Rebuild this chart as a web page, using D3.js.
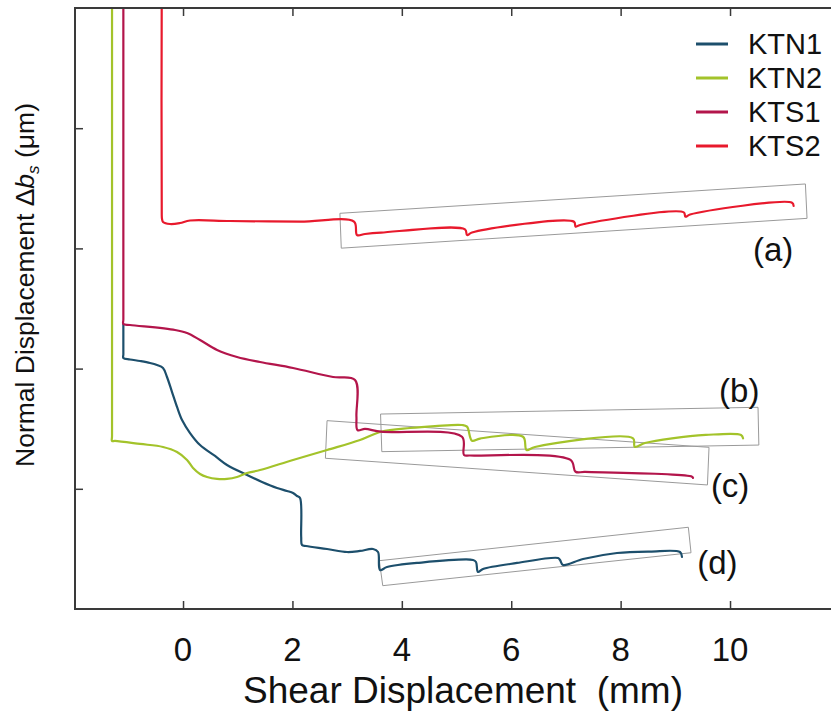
<!DOCTYPE html>
<html><head><meta charset="utf-8">
<script src="https://cdn.jsdelivr.net/npm/d3@7"></script>
<style>
html,body{margin:0;padding:0;background:#fff;}
text{font-family:"Liberation Sans",Arial,Helvetica,sans-serif;fill:#111;}
</style></head>
<body>
<svg id="chart" width="831" height="711"></svg>
<script>
// ---- data (shear displacement in mm, normal displacement in arbitrary µm units) ----
const seriesNames = ["KTN1", "KTN2", "KTS1", "KTS2"];
const seriesColors = ["#1d4f6c", "#a3c32a", "#b3154b", "#e8192c"];
const xTicks = [0, 2, 4, 6, 8, 10];
const yTicks = [100, 200, 300, 400];

const ktn1 = [[-1.091,237.1],[-1.091,212.0],[-1.091,208.8],[-0.969,207.6],[-0.786,206.3],[-0.603,204.7],[-0.475,203.0],[-0.366,200.5],[-0.293,193.0],[-0.201,180.5],[-0.110,168.1],[-0.018,157.2],[0.128,146.4],[0.311,136.4],[0.585,127.3],[0.804,119.8],[1.170,111.5],[1.444,105.7],[1.718,100.7],[1.901,98.2],[2.011,96.5],[2.084,94.0],[2.139,92.3],[2.160,60.0],[2.175,53.2],[2.249,52.4],[2.633,49.9],[3.0,47.4],[3.236,48.3],[3.474,49.9],[3.565,47.4],[3.601,32.4],[3.729,34.9],[4.278,38.3],[5.302,40.8],[5.356,39.1],[5.393,30.8],[5.484,33.3],[6.106,38.3],[6.856,42.4],[6.892,40.8],[6.947,36.6],[7.313,41.6],[7.934,46.6],[8.537,47.8],[9.086,47.4],[9.122,43.3]];
const ktn2 = [[-1.298,520],[-1.298,144.0],[-1.298,139.8],[-1.243,139.8],[-0.786,137.3],[-0.366,134.8],[-0.110,130.6],[0.073,124.0],[0.183,117.3],[0.311,112.3],[0.439,109.8],[0.622,108.2],[0.804,108.2],[0.987,109.8],[1.170,113.1],[1.408,115.6],[2.011,124.0],[2.633,132.3],[3.236,140.6],[3.620,147.5],[4.150,150.6],[4.607,152.2],[5.100,153.1],[5.192,151.7],[5.283,140.0],[5.430,141.8],[6.216,143.3],[6.280,132.3],[6.435,134.8],[8.227,142.0],[8.258,135.0],[8.446,138.1],[8.940,142.0],[9.556,144.8],[10.201,144.8],[10.238,142.0]];
const kts1 = [[-1.091,520],[-1.091,241.0],[-1.091,237.1],[-0.969,236.3],[-0.146,232.1],[0.073,229.6],[0.311,223.8],[0.622,215.5],[0.987,209.7],[1.408,205.5],[2.011,200.5],[2.742,193.0],[3.144,190.5],[3.170,160.0],[3.190,148.9],[3.327,149.8],[3.620,147.5],[5.100,143.3],[5.137,128.1],[5.247,127.7],[7.084,124.0],[7.176,114.2],[7.349,114.0],[9.305,110.1],[9.324,109.0]];
const kts2 = [[-0.389,520],[-0.389,328.0],[-0.384,324.5],[-0.366,322.0],[-0.238,320.3],[-0.055,321.1],[0.128,323.2],[0.859,322.8],[2.139,322.2],[3.126,322.2],[3.181,311.1],[3.327,312.0],[3.620,313.1],[5.155,315.9],[5.192,311.1],[5.283,313.2],[7.148,322.2],[7.176,318.1],[7.258,319.5],[9.154,330.0],[9.185,326.4],[9.269,328.2],[11.133,338.0],[11.163,335.3]];

// annotation boxes (corners) and labels
const boxA = [[2.868,329.2],[11.378,353.6],[11.408,325.0],[2.893,300.2]];
const boxB = [[3.611,162.2],[10.512,167.8],[10.527,136.4],[3.634,130.9]];
const boxC = [[2.633,156.7],[9.616,134.5],[9.587,103.2],[2.603,125.4]];
const boxD = [[3.589,40.2],[9.238,68.0],[9.287,46.8],[3.651,19.4]];
const boxLabels = ["(a)", "(b)", "(c)", "(d)"];
const boxLabelPos = [[10.42,289.5],[9.80,172.5],[9.65,93.5],[9.40,29.0]];

// ---- layout ----
const svg = d3.select("#chart");
const L = 75, R = 831, T = 8, B = 609;
const x = d3.scaleLinear().domain([-1.975, 11.846]).range([L, R]);
const y = d3.scaleLinear().domain([0, 500]).range([B, T]);

svg.append("defs").append("clipPath").attr("id","clip")
  .append("rect").attr("x",L).attr("y",T).attr("width",R-L).attr("height",B-T);

// boxes
const boxes = [boxA, boxB, boxC, boxD];
const poly = d3.line().x(d=>x(d[0])).y(d=>y(d[1])).curve(d3.curveLinearClosed);
svg.append("g").selectAll("path").data(boxes).join("path")
  .attr("d", poly).attr("fill","none").attr("stroke","#9a9a9a").attr("stroke-width",1);

// curves
const line = d3.line().x(d=>x(d[0])).y(d=>y(d[1])).curve(d3.curveCatmullRom.alpha(0.5));
const allSeries = [ktn1, ktn2, kts1, kts2];
svg.append("g").attr("clip-path","url(#clip)").selectAll("path").data(allSeries).join("path")
  .attr("d", line).attr("fill","none")
  .attr("stroke",(d,i)=>seriesColors[i]).attr("stroke-width",2.2)
  .attr("stroke-linejoin","round").attr("stroke-linecap","round");

// axes
const axisColor = "#3a3a3a";
const gB = svg.append("g").attr("transform",`translate(0,${B})`)
  .call(d3.axisTop(x).tickValues(xTicks).tickSize(8).tickFormat(""));
const gT = svg.append("g").attr("transform",`translate(0,${T})`)
  .call(d3.axisBottom(x).tickValues(xTicks).tickSize(8).tickFormat(""));
const gL = svg.append("g").attr("transform",`translate(${L},0)`)
  .call(d3.axisRight(y).tickValues(yTicks).tickSize(8).tickFormat(""));
[gB,gT,gL].forEach(g=>{
  g.select(".domain").remove();
  g.selectAll(".tick line").attr("stroke",axisColor).attr("stroke-width",1.5);
});
svg.append("path").attr("d",`M${R},${T}H${L}V${B}H${R}`)
  .attr("fill","none").attr("stroke",axisColor).attr("stroke-width",2);

// x tick labels
svg.append("g").selectAll("text").data(xTicks).join("text")
  .attr("x",d=>x(d)).attr("y",661).attr("text-anchor","middle")
  .style("font-size","33px").text(d=>d);

// axis titles
svg.append("text").attr("x",463).attr("y",703).attr("text-anchor","middle")
  .style("font-size","37px").style("white-space","pre").text("Shear Displacement  (mm)");
const yt = svg.append("text").attr("transform","translate(34,285) rotate(-90)")
  .attr("text-anchor","middle").style("font-size","26.5px");
yt.append("tspan").text("Normal Displacement Δ");
yt.append("tspan").style("font-style","italic").text("b");
yt.append("tspan").attr("dy",5).style("font-size","17px").style("font-style","italic").text("s");
yt.append("tspan").attr("dy",-5).text(" (μm)");

// box labels
svg.append("g").selectAll("text").data(boxLabels).join("text")
  .attr("x",(d,i)=>x(boxLabelPos[i][0])).attr("y",(d,i)=>y(boxLabelPos[i][1]))
  .style("font-size","33px").text(d=>d);

// legend
const lg = svg.append("g");
seriesNames.forEach((n,i)=>{
  const yy = 44 + i*34;
  lg.append("line").attr("x1",696).attr("x2",728).attr("y1",yy).attr("y2",yy)
    .attr("stroke",seriesColors[i]).attr("stroke-width",3);
  lg.append("text").attr("x",748).attr("y",yy).attr("dy","0.35em")
    .style("font-size","29px").text(n);
});
</script>
</body></html>
